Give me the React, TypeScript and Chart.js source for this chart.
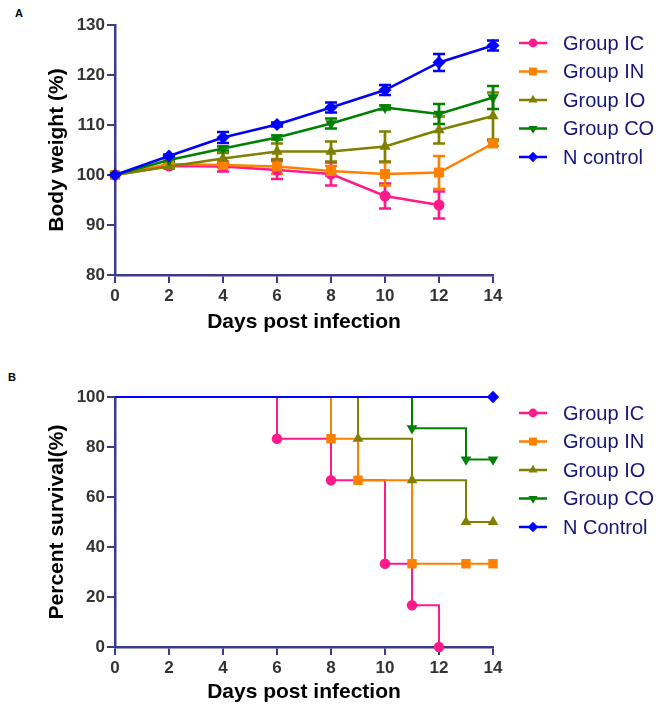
import React, { useEffect, useRef } from "react";
import { Chart, registerables } from "chart.js";

Chart.register(...registerables);

// ---------- data ----------
const days = [0, 2, 4, 6, 8, 10, 12, 14];

const weightIC = [100, 101.8, 101.7, 101.0, 100.2, 95.8, 94.0, null];
const errIC = [0, 0.3, 1.0, 1.8, 2.3, 2.5, 2.7, null];
const weightIN = [100, 102.2, 102.0, 101.7, 100.8, 100.2, 100.5, 106.3];
const errIN = [0, 0.4, 0.5, 1.5, 1.0, 2.3, 3.3, 0.5];
const weightIO = [100, 101.7, 103.3, 104.7, 104.7, 105.7, 109.0, 111.8];
const errIO = [0, 0.4, 1.1, 1.6, 2.0, 3.0, 2.7, 4.7];
const weightCO = [100, 103.0, 105.3, 107.5, 110.3, 113.5, 112.2, 115.5];
const errCO = [0, 0.3, 0.4, 0.4, 1.0, 0.4, 2.0, 2.3];
const weightNC = [100, 103.8, 107.5, 110.1, 113.5, 117.0, 122.5, 125.9];
const errNC = [0, 0.3, 1.1, 0.4, 1.0, 1.0, 1.7, 1.0];

const survDaysIC = [0, 6, 8, 10, 11, 12];
const survIC = [100, 83.3, 66.7, 33.3, 16.7, 0];
const survDaysIN = [0, 8, 9, 11, 13, 14];
const survIN = [100, 83.3, 66.7, 33.3, 33.3, 33.3];
const survDaysIO = [0, 9, 11, 13, 14];
const survIO = [100, 83.3, 66.7, 50, 50];
const survDaysCO = [0, 11, 13, 14];
const survCO = [100, 87.5, 75, 75];
const survDaysNC = [0, 14];
const survNC = [100, 100];

const namesA = ["Group IC", "Group IN", "Group IO", "Group CO", "N control"];
const namesB = ["Group IC", "Group IN", "Group IO", "Group CO", "N Control"];

const weightTicksY = { min: 80, max: 130, step: 10 };
const survTicksY = { min: 0, max: 100, step: 20 };
const dayTicks = { min: 0, max: 14, step: 2 };

// ---------- styles ----------
const COLORS = ["#FF1A8C", "#FF8000", "#808000", "#008000", "#0000FF"];
const STYLES = ["circle", "rect", "triangle", "triangle", "rectRot"];
const ROTS = [0, 0, 0, 180, 0];
const RADII = [5.5, 7, 6.5, 6.5, 6.5];
const AXIS = "#3A3A8E";
const TICKCOL = "#333333";
const LEGCOL = "#16167A";
const FAMILY = "Arial, 'Liberation Sans', sans-serif";

function drawMarker(ctx, style, x, y, r, rot) {
  ctx.beginPath();
  if (style === "circle") {
    ctx.arc(x, y, r, 0, Math.PI * 2);
  } else if (style === "rect") {
    const s = r * Math.SQRT1_2;
    ctx.rect(x - s, y - s, 2 * s, 2 * s);
  } else if (style === "rectRot") {
    ctx.moveTo(x, y - r);
    ctx.lineTo(x + r, y);
    ctx.lineTo(x, y + r);
    ctx.lineTo(x - r, y);
    ctx.closePath();
  } else if (style === "triangle") {
    let a = (rot * Math.PI) / 180;
    for (let i = 0; i < 3; i++) {
      const px = x + Math.sin(a) * r;
      const py = y - Math.cos(a) * r;
      if (i === 0) ctx.moveTo(px, py);
      else ctx.lineTo(px, py);
      a += (2 * Math.PI) / 3;
    }
    ctx.closePath();
  }
  ctx.fill();
}

function legendPlugin(names) {
  return {
    id: "customLegend",
    afterDraw(chart) {
      const ctx = chart.ctx;
      ctx.save();
      const y0 = 43;
      const dy = 28.5;
      names.forEach((name, i) => {
        const y = y0 + dy * i;
        ctx.strokeStyle = COLORS[i];
        ctx.fillStyle = COLORS[i];
        ctx.lineWidth = 2.5;
        ctx.beginPath();
        ctx.moveTo(519, y);
        ctx.lineTo(547, y);
        ctx.stroke();
        drawMarker(ctx, STYLES[i], 533, y, RADII[i] * 0.8, ROTS[i]);
        ctx.fillStyle = LEGCOL;
        ctx.font = `20px ${FAMILY}`;
        ctx.textBaseline = "middle";
        ctx.textAlign = "left";
        ctx.fillText(name, 563, y + 1);
      });
      ctx.restore();
    },
  };
}

const errorBarPlugin = {
  id: "errorBars",
  beforeDatasetsDraw(chart) {
    const ctx = chart.ctx;
    const xs = chart.scales.x;
    const ys = chart.scales.y;
    ctx.save();
    chart.data.datasets.forEach((ds) => {
      const errs = ds.errors;
      if (!errs) return;
      ctx.strokeStyle = ds.borderColor;
      ctx.lineWidth = 2.7;
      ds.data.forEach((pt, i) => {
        const e = errs[i];
        if (pt.y == null || !e) return;
        const x = xs.getPixelForValue(pt.x);
        const yt = ys.getPixelForValue(pt.y + e);
        const yb = ys.getPixelForValue(pt.y - e);
        ctx.beginPath();
        ctx.moveTo(x, yt);
        ctx.lineTo(x, yb);
        ctx.moveTo(x - 6, yt);
        ctx.lineTo(x + 6, yt);
        ctx.moveTo(x - 6, yb);
        ctx.lineTo(x + 6, yb);
        ctx.stroke();
      });
    });
    ctx.restore();
  },
};

function axisOpts(range, title, isX, titlePad, size) {
  return {
    type: "linear",
    min: range.min,
    max: range.max,
    ticks: {
      stepSize: range.step,
      color: TICKCOL,
      font: { family: FAMILY, size: 17, weight: "bold" },
      padding: isX ? 3 : 2,
      maxRotation: 0,
    },
    grid: {
      display: true,
      drawOnChartArea: false,
      drawTicks: true,
      tickLength: 8,
      lineWidth: 2,
      color: AXIS,
    },
    border: { display: true, color: AXIS, width: 2.5 },
    title: {
      display: true,
      text: title,
      color: "#000000",
      font: { family: FAMILY, size: 21, weight: "bold" },
      padding: titlePad,
    },
    afterFit: (s) => {
      if (isX) s.height = size;
      else s.width = size;
    },
  };
}

function buildWeightDatasets() {
  const w = [weightIC, weightIN, weightIO, weightCO, weightNC];
  const e = [errIC, errIN, errIO, errCO, errNC];
  return namesA.map((name, i) => ({
    label: name,
    data: days.map((d, j) => ({ x: d, y: w[i][j] })),
    errors: e[i],
    borderColor: COLORS[i],
    backgroundColor: COLORS[i],
    borderWidth: 2.5,
    pointStyle: STYLES[i],
    pointRotation: ROTS[i],
    pointRadius: RADII[i],
    pointBorderWidth: 0,
    pointBackgroundColor: COLORS[i],
    clip: false,
    order: 4 - i,
  }));
}

function buildSurvivalDatasets() {
  const dd = [survDaysIC, survDaysIN, survDaysIO, survDaysCO, survDaysNC];
  const vv = [survIC, survIN, survIO, survCO, survNC];
  return namesB.map((name, i) => ({
    label: name,
    data: dd[i].map((d, j) => ({ x: d, y: vv[i][j] })),
    borderColor: COLORS[i],
    backgroundColor: COLORS[i],
    borderWidth: 2,
    stepped: "before",
    pointStyle: STYLES[i],
    pointRotation: ROTS[i],
    pointRadius: (c) => (c.dataIndex === 0 ? 0 : RADII[i] * 0.95),
    pointBorderWidth: 0,
    pointBackgroundColor: COLORS[i],
    clip: false,
    order: 4 - i,
  }));
}

function ChartA() {
  const ref = useRef(null);
  useEffect(() => {
    const chart = new Chart(ref.current, {
      type: "line",
      data: { datasets: buildWeightDatasets() },
      options: {
        responsive: false,
        animation: false,
        layout: { padding: { left: 0, right: 168, top: 25, bottom: 0 } },
        plugins: { legend: { display: false }, tooltip: { enabled: false } },
        scales: {
          x: axisOpts(dayTicks, "Days post infection", true, { top: 0, bottom: 20 }, 80),
          y: axisOpts(weightTicksY, "Body weight (%)", false, { top: 45, bottom: 0 }, 115),
        },
      },
      plugins: [errorBarPlugin, legendPlugin(namesA)],
    });
    return () => chart.destroy();
  }, []);
  return <canvas ref={ref} width={661} height={355} />;
}

function ChartB() {
  const ref = useRef(null);
  useEffect(() => {
    const chart = new Chart(ref.current, {
      type: "line",
      data: { datasets: buildSurvivalDatasets() },
      options: {
        responsive: false,
        animation: false,
        layout: { padding: { left: 0, right: 168, top: 27, bottom: 0 } },
        plugins: { legend: { display: false }, tooltip: { enabled: false } },
        scales: {
          x: axisOpts(dayTicks, "Days post infection", true, { top: 0, bottom: 5 }, 63),
          y: axisOpts(survTicksY, "Percent survival(%)", false, { top: 45, bottom: 0 }, 115),
        },
      },
      plugins: [legendPlugin(namesB)],
    });
    return () => chart.destroy();
  }, []);
  return <canvas ref={ref} width={661} height={340} />;
}

const labelStyle = {
  position: "absolute",
  fontFamily: FAMILY,
  fontWeight: "bold",
  fontSize: 11,
  color: "#000",
  lineHeight: "11px",
};

export default function App() {
  return (
    <div
      style={{
        position: "absolute",
        left: 0,
        top: 0,
        width: 661,
        height: 710,
        background: "#fff",
        overflow: "hidden",
      }}
    >
      <div style={{ ...labelStyle, left: 15, top: 8 }}>A</div>
      <div style={{ ...labelStyle, left: 8, top: 372 }}>B</div>
      <div style={{ position: "absolute", left: 0, top: 0 }}>
        <ChartA />
      </div>
      <div style={{ position: "absolute", left: 0, top: 370 }}>
        <ChartB />
      </div>
    </div>
  );
}
